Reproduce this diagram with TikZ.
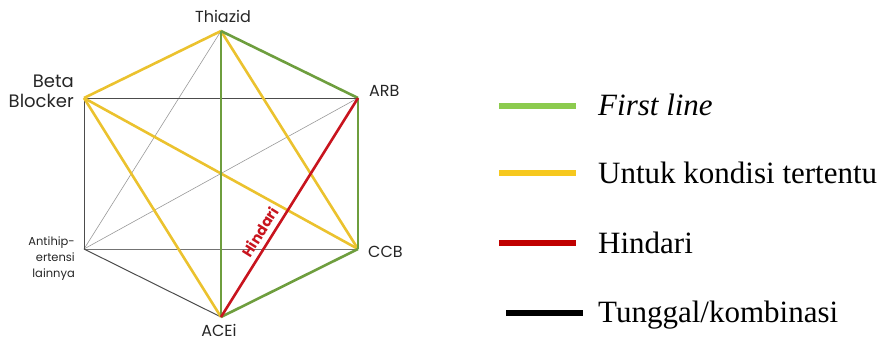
\documentclass[tikz,border=0pt]{standalone}
\usepackage{fontspec}
\setmainfont{Liberation Serif}
\newfontfamily\gfont{Poppins}
\definecolor{dgreen}{HTML}{6E9E3E}
\definecolor{dyellow}{HTML}{EBC22E}
\definecolor{dred}{HTML}{C8141E}
\definecolor{lgreen}{HTML}{8CCB4E}
\definecolor{lyellow}{HTML}{F6C81E}
\definecolor{lred}{HTML}{C00000}
\begin{document}
\begin{tikzpicture}[x=1pt,y=-1pt,
  lab/.style={font=\gfont\fontsize{16}{20}\selectfont, text=black!85, inner sep=0pt},
  biglab/.style={font=\gfont\fontsize{18}{20}\selectfont, text=black!85, inner sep=0pt},
  smalllab/.style={font=\gfont\fontsize{11.5}{16}\selectfont, text=black!85, inner sep=0pt},
  gline/.style={dgreen, line width=2.6pt},
  yline/.style={dyellow, line width=2.6pt},
  rline/.style={dred, line width=2.6pt},
  kline/.style={black!70, line width=1pt},
  thin/.style={black!40, line width=0.6pt},
  legline/.style={line width=5.5pt},
  legtext/.style={font=\fontsize{31}{31}\selectfont, anchor=base west, inner sep=0pt}]
\useasboundingbox (0,0) rectangle (893,341);
\coordinate (T) at (221,31);
\coordinate (B) at (84,98);
\coordinate (R) at (358,98);
\coordinate (O) at (84,249);
\coordinate (C) at (358,249);
\coordinate (A) at (221,317);
% gray lines
\draw[thin] (O) -- (T);
\draw[thin] (O) -- (R);
\draw[kline] (B) -- (R);
\draw[kline] (B) -- (O);
\draw[kline, black!55] (O) -- (C);
\draw[kline] (O) -- (A);
% yellow
\draw[yline] (T) -- (B);
\draw[yline] (T) -- (C);
\draw[yline] (B) -- (C);
\draw[yline] (B) -- (A);
% green
\draw[gline] (T) -- (R);
\draw[gline] (T) -- (A);
\draw[gline] (R) -- (C);
\draw[gline] (C) -- (A);
% red
\draw[rline] (A) -- node[pos=0.36, sloped, above=5pt, font=\gfont\bfseries\fontsize{14.5}{14.5}\selectfont, text=dred, inner sep=0pt] (hl) {Hindari} (R);
% labels
\node[lab, anchor=base] (tl) at (223,22) {Thiazid};
\node[biglab, anchor=base east, align=right] (bl) at (74,107) {Beta\\Blocker};
\node[lab, anchor=base west] (rl) at (369,96) {ARB};
\node[lab, anchor=base west] (cl) at (368,257) {CCB};
\node[lab, anchor=base] (al) at (219,336) {ACEi};
\node[smalllab, anchor=base east, align=right] (ol) at (75,277) {Antihip-\\ertensi\\lainnya};
% legend
\coordinate (g1) at (499,106); \coordinate (g2) at (576,106);
\coordinate (y1) at (499,173); \coordinate (y2) at (576,173);
\coordinate (r1) at (499,243); \coordinate (r2) at (576,243);
\coordinate (k1) at (506,313); \coordinate (k2) at (583,313);
\draw[legline, lgreen] (g1) -- (g2);
\draw[legline, lyellow] (y1) -- (y2);
\draw[legline, lred] (r1) -- (r2);
\draw[legline, black] (k1) -- (k2);
\node[legtext] (lt1) at (598,115) {\itshape First line};
\node[legtext] (lt2) at (598,183) {Untuk kondisi tertentu};
\node[legtext] (lt3) at (598,253) {Hindari};
\node[legtext] (lt4) at (598,322) {Tunggal/kombinasi};
\end{tikzpicture}
\end{document}
